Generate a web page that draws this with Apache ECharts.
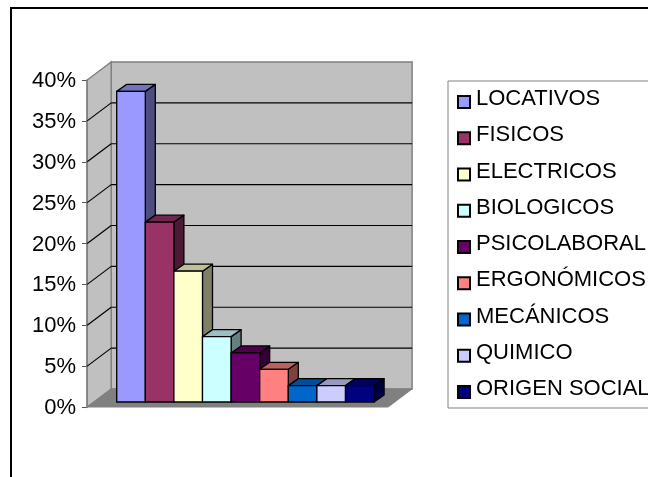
<!DOCTYPE html>
<html><head><meta charset="utf-8">
<style>html,body{margin:0;padding:0;background:#fff}#c{width:648px;height:477px}</style>
<script src="https://cdn.jsdelivr.net/npm/echarts@6/dist/echarts.min.js"></script>
</head><body><div id="c"></div>
<script>
const names = ['LOCATIVOS','FISICOS','ELECTRICOS','BIOLOGICOS','PSICOLABORAL','ERGONÓMICOS','MECÁNICOS','QUIMICO','ORIGEN SOCIAL'];
const values = [38,22,16,8,6,4,2,2,2];
const colors = ['#9999FF','#993366','#FFFFCC','#CCFFFF','#660066','#FF8080','#0066CC','#CCCCFF','#000080'];
const yTicks = [0,5,10,15,20,25,30,35,40];
const FONT = 'Liberation Sans';

function shade(hex,f){
  const n=parseInt(hex.slice(1),16);
  const c=[(n>>16)&255,(n>>8)&255,n&255].map(v=>Math.round(v*f));
  return 'rgb('+c.join(',')+')';
}
const chart = echarts.init(document.getElementById('c'),null,{renderer:'canvas'});

function renderWalls(params,api){
  if(params.dataIndex!==0) return;
  const n=names.length;
  const p0=api.coord([0,0]), p40=api.coord([0,40]);
  const band=api.size([1,0])[0];
  const gl=p0[0]-band/2, gr=gl+band*n;
  const L=gl-29.5, R=gr+14, DX=24, DY=-18;
  const y0=p0[1], yT=p40[1];
  const kids=[];
  const wall={fill:'#C0C0C0',stroke:'#808080',lineWidth:1.5};
  kids.push({type:'polygon',shape:{points:[[L+DX,y0+DY],[R+DX,y0+DY],[R+DX,yT+DY],[L+DX,yT+DY]]},style:wall});
  kids.push({type:'polygon',shape:{points:[[L,y0],[L+DX,y0+DY],[L+DX,yT+DY],[L,yT]]},style:wall});
  kids.push({type:'polygon',shape:{points:[[L,y0],[R,y0],[R+DX,y0+DY],[L+DX,y0+DY]]},style:{fill:'#808080',stroke:'#808080',lineWidth:1}});
  yTicks.forEach(t=>{
    if(t===0 || t===40) return;
    const y=api.coord([0,t])[1];
    kids.push({type:'line',shape:{x1:L+DX,y1:y+DY,x2:R+DX,y2:y+DY},style:{stroke:'#000',lineWidth:1.2}});
    kids.push({type:'line',shape:{x1:L,y1:y,x2:L+DX,y2:y+DY},style:{stroke:'#000',lineWidth:1.2}});
  });
  return {type:'group',children:kids};
}
function renderBar(color){
  return function(params,api){
    const p=api.coord([api.value(0),api.value(1)]);
    const b=api.coord([api.value(0),0]);
    const w=api.size([1,0])[0];
    const off=-5;
    const x1=p[0]-w/2,x2=p[0]+w/2,yt=p[1]+off,yb=b[1]+off;
    const dx=10,dy=-7;
    const s={stroke:'#000',lineWidth:1.3,lineJoin:'round'};
    return {type:'group',children:[
      {type:'polygon',shape:{points:[[x2,yb],[x2+dx,yb+dy],[x2+dx,yt+dy],[x2,yt]]},style:Object.assign({fill:shade(color,0.5)},s)},
      {type:'polygon',shape:{points:[[x1,yt],[x1+dx,yt+dy],[x2+dx,yt+dy],[x2,yt]]},style:Object.assign({fill:shade(color,0.75)},s)},
      {type:'rect',shape:{x:x1,y:yt,width:x2-x1,height:yb-yt},style:Object.assign({fill:color},s)}
    ]};
  };
}
const series=[{type:'custom',name:'_walls',silent:true,z:1,clip:false,renderItem:renderWalls,data:[[0,0]],encode:{x:0,y:1}}];
names.forEach((nm,i)=>series.push({
  type:'custom',name:nm,z:2+i,clip:false,silent:true,
  renderItem:renderBar(colors[i]),
  itemStyle:{color:colors[i],borderColor:'#000',borderWidth:1.2},
  data:[[i,values[i]]],encode:{x:0,y:1}
}));
chart.setOption({
  animation:false,
  backgroundColor:'#fff',
  textStyle:{fontFamily:FONT},
  grid:{left:116.7,width:257.4,top:80,height:327},
  xAxis:{type:'category',data:names,show:false},
  yAxis:{type:'value',min:0,max:40,interval:5,offset:29.7,
    axisLine:{show:true,lineStyle:{color:'#808080',width:1.5}},
    axisTick:{show:true,length:5,lineStyle:{color:'#555',width:1}},
    axisLabel:{formatter:function(v){return '{a|'+v+'%}';},margin:11,
      rich:{a:{color:'#000',fontSize:22,lineHeight:22,padding:[2,0,0,0],fontFamily:FONT}}},
    splitLine:{show:false}},
  legend:{show:true,orient:'vertical',left:448,top:81,padding:[7,60,2,9],
    data:names,itemWidth:12,itemHeight:12,itemGap:8.25,icon:'rect',
    borderColor:'#808080',borderWidth:1,selectedMode:false,
    formatter:function(n){return '{a|'+n+'}';},
    textStyle:{rich:{a:{fontSize:22,lineHeight:20,color:'#000',fontFamily:FONT,padding:[0,0,6,1]}}}},
  series:series,
  graphic:[{type:'rect',silent:true,z:-1,shape:{x:11,y:8,width:700,height:600},style:{fill:'none',stroke:'#000',lineWidth:2}}]
});
</script></body></html>
